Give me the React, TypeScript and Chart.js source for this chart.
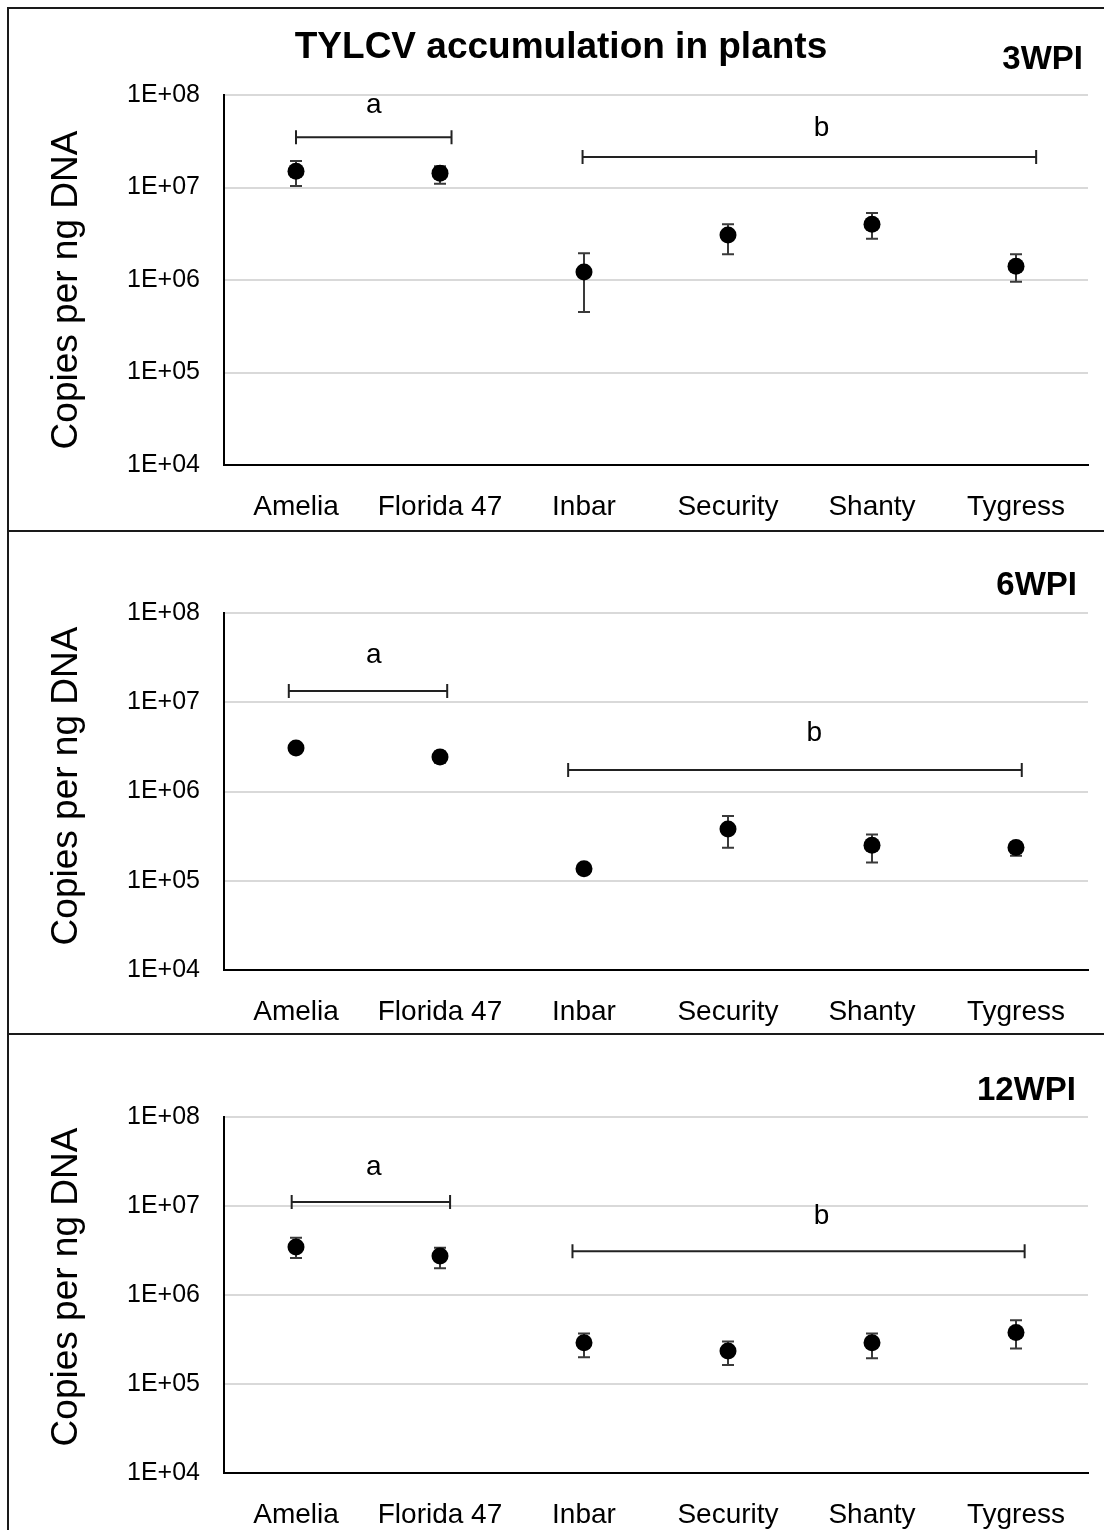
import React, { useEffect, useRef } from "react";
import { Chart, registerables } from "chart.js";

Chart.register(...registerables);

const FONT = '"Liberation Sans", Arial, Helvetica, sans-serif';

const categories = ["Amelia", "Florida 47", "Inbar", "Security", "Shanty", "Tygress"];
const yTickValues = [1e4, 1e5, 1e6, 1e7, 1e8];
const mainTitle = "TYLCV accumulation in plants";
const yAxisTitle = "Copies per ng DNA";

// 3 weeks post inoculation
const wpi3Mean = [1.5e7, 1.43e7, 1.22e6, 3.06e6, 4.0e6, 1.41e6];
const wpi3Low = [1.04e7, 1.1e7, 4.5e5, 1.9e6, 2.8e6, 9.6e5];
const wpi3High = [1.93e7, 1.7e7, 1.95e6, 4.0e6, 5.3e6, 1.9e6];

// 6 weeks post inoculation
const wpi6Mean = [3.07e6, 2.43e6, 1.36e5, 3.8e5, 2.5e5, 2.36e5];
const wpi6Low = [2.8e6, 2.1e6, 1.25e5, 2.34e5, 1.6e5, 1.9e5];
const wpi6High = [3.35e6, 2.8e6, 1.48e5, 5.3e5, 3.3e5, 2.7e5];

// 12 weeks post inoculation
const wpi12Mean = [3.46e6, 2.75e6, 2.9e5, 2.35e5, 2.9e5, 3.8e5];
const wpi12Low = [2.6e6, 2.0e6, 2.0e5, 1.63e5, 1.95e5, 2.5e5];
const wpi12High = [4.4e6, 3.4e6, 3.7e5, 3.0e5, 3.7e5, 5.2e5];

// significance groups: bar span (category index units), bar value, letter position
const sig3 = [
  { letter: "a", from: 0, to: 1.08, barValue: 3.5e7, letterX: 0.54, letterValue: 7.8e7 },
  { letter: "b", from: 1.99, to: 5.14, barValue: 2.14e7, letterX: 3.65, letterValue: 4.4e7 },
];
const sig6 = [
  { letter: "a", from: -0.05, to: 1.05, barValue: 1.34e7, letterX: 0.54, letterValue: 3.4e7 },
  { letter: "b", from: 1.89, to: 5.04, barValue: 1.74e6, letterX: 3.6, letterValue: 4.5e6 },
];
const sig12 = [
  { letter: "a", from: -0.03, to: 1.07, barValue: 1.11e7, letterX: 0.54, letterValue: 2.75e7 },
  { letter: "b", from: 1.92, to: 5.06, barValue: 3.1e6, letterX: 3.65, letterValue: 7.7e6 },
];

type Sig = { letter: string; from: number; to: number; barValue: number; letterX: number; letterValue: number };

type PanelProps = {
  top: number;
  height: number;
  areaTop: number;
  areaBottom: number;
  label: string;
  labelY: number;
  labelRight: number;
  yTitleCenter: number;
  mean: number[];
  low: number[];
  high: number[];
  sig: Sig[];
  showTitle: boolean;
};

function Panel(p: PanelProps) {
  const ref = useRef<HTMLCanvasElement | null>(null);
  useEffect(() => {
    if (!ref.current) return;
    const xHeight = p.height - p.areaBottom;
    const custom = {
      id: "custom",
      beforeDatasetsDraw(chart: any) {
        const ctx = chart.ctx;
        const xs = chart.scales.x;
        const ys = chart.scales.y;
        ctx.save();
        ctx.strokeStyle = "#3a3a3a";
        ctx.lineWidth = 2;
        for (let i = 0; i < p.mean.length; i++) {
          const x = xs.getPixelForValue(i);
          const y1 = ys.getPixelForValue(p.low[i]);
          const y2 = ys.getPixelForValue(p.high[i]);
          ctx.beginPath();
          ctx.moveTo(x, y1);
          ctx.lineTo(x, y2);
          ctx.moveTo(x - 6, y1);
          ctx.lineTo(x + 6, y1);
          ctx.moveTo(x - 6, y2);
          ctx.lineTo(x + 6, y2);
          ctx.stroke();
        }
        ctx.restore();
      },
      afterDraw(chart: any) {
        const ctx = chart.ctx;
        const xs = chart.scales.x;
        const ys = chart.scales.y;
        ctx.save();
        ctx.strokeStyle = "#222";
        ctx.lineWidth = 2;
        ctx.fillStyle = "#000";
        ctx.textAlign = "center";
        ctx.textBaseline = "middle";
        ctx.font = `28px ${FONT}`;
        for (const s of p.sig) {
          const xa = xs.getPixelForValue(s.from);
          const xb = xs.getPixelForValue(s.to);
          const y = ys.getPixelForValue(s.barValue);
          ctx.beginPath();
          ctx.moveTo(xa, y);
          ctx.lineTo(xb, y);
          ctx.moveTo(xa, y - 7);
          ctx.lineTo(xa, y + 7);
          ctx.moveTo(xb, y - 7);
          ctx.lineTo(xb, y + 7);
          ctx.stroke();
          ctx.fillText(s.letter, xs.getPixelForValue(s.letterX), ys.getPixelForValue(s.letterValue));
        }
        // y axis title
        ctx.save();
        ctx.translate(67, p.yTitleCenter);
        ctx.rotate(-Math.PI / 2);
        ctx.font = `37px ${FONT}`;
        ctx.textAlign = "center";
        ctx.textBaseline = "middle";
        ctx.fillText(yAxisTitle, 0, 0);
        ctx.restore();

        ctx.font = `bold 33px ${FONT}`;
        ctx.textAlign = "right";
        ctx.fillText(p.label, p.labelRight, p.labelY);
        if (p.showTitle) {
          ctx.textAlign = "center";
          ctx.font = `bold 37px ${FONT}`;
          ctx.fillText(mainTitle, 561, 48);
        }
        ctx.restore();
      },
    };

    const chart = new Chart(ref.current, {
      type: "line",
      data: {
        labels: categories,
        datasets: [
          {
            data: p.mean,
            showLine: false,
            pointRadius: 8.5,
            pointHoverRadius: 8.5,
            pointBackgroundColor: "#000",
            pointBorderColor: "#000",
            pointBorderWidth: 0,
          },
        ],
      },
      options: {
        responsive: false,
        animation: false,
        events: [],
        layout: { padding: { left: 0, right: 16, top: p.areaTop, bottom: 0 } },
        plugins: { legend: { display: false }, tooltip: { enabled: false }, title: { display: false } },
        scales: {
          x: {
            type: "category",
            offset: true,
            grid: { display: false, drawTicks: false },
            border: { display: true, color: "#000", width: 2 },
            ticks: { color: "#000", font: { family: FONT, size: 28 }, padding: 25, maxRotation: 0, autoSkip: false },
            afterFit: (scale: any) => {
              scale.height = xHeight;
            },
          },
          y: {
            type: "logarithmic",
            min: 1e4,
            max: 1e8,
            grid: { color: "#d9d9d9", lineWidth: 2, drawTicks: false },
            border: { display: true, color: "#000", width: 2 },
            afterBuildTicks: (scale: any) => {
              scale.ticks = yTickValues.map((v) => ({ value: v, major: true }));
            },
            ticks: {
              color: "#000",
              font: { family: FONT, size: 25 },
              padding: 24,
              callback: (v: any) => "1E+" + String(Math.round(Math.log10(Number(v)))).padStart(2, "0"),
            },
            title: { display: false },
            afterFit: (scale: any) => {
              scale.width = 224;
            },
          },
        },
      },
      plugins: [custom],
    } as any);
    return () => chart.destroy();
  }, []);
  return (
    <canvas
      ref={ref}
      width={1104}
      height={p.height}
      style={{ position: "absolute", left: 0, top: p.top, width: 1104, height: p.height, display: "block" }}
    />
  );
}

const lineColor = "#1a1a1a";

export default function App() {
  return (
    <div style={{ position: "absolute", left: 0, top: 0, width: 1104, height: 1530, background: "#fff", overflow: "hidden" }}>
      <Panel top={0} height={531} areaTop={95} areaBottom={465} label="3WPI" labelY={60} labelRight={1083} yTitleCenter={290}
        mean={wpi3Mean} low={wpi3Low} high={wpi3High} sig={sig3} showTitle={true} />
      <Panel top={531} height={503} areaTop={82} areaBottom={439} label="6WPI" labelY={55} labelRight={1077} yTitleCenter={255}
        mean={wpi6Mean} low={wpi6Low} high={wpi6High} sig={sig6} showTitle={false} />
      <Panel top={1034} height={496} areaTop={83} areaBottom={439} label="12WPI" labelY={57} labelRight={1076} yTitleCenter={253}
        mean={wpi12Mean} low={wpi12Low} high={wpi12High} sig={sig12} showTitle={false} />
      <div style={{ position: "absolute", left: 7, top: 7, width: 2, height: 1523, background: lineColor }} />
      <div style={{ position: "absolute", left: 7, top: 7, width: 1097, height: 2, background: lineColor }} />
      <div style={{ position: "absolute", left: 7, top: 530, width: 1097, height: 2, background: lineColor }} />
      <div style={{ position: "absolute", left: 7, top: 1033, width: 1097, height: 2, background: lineColor }} />
    </div>
  );
}
